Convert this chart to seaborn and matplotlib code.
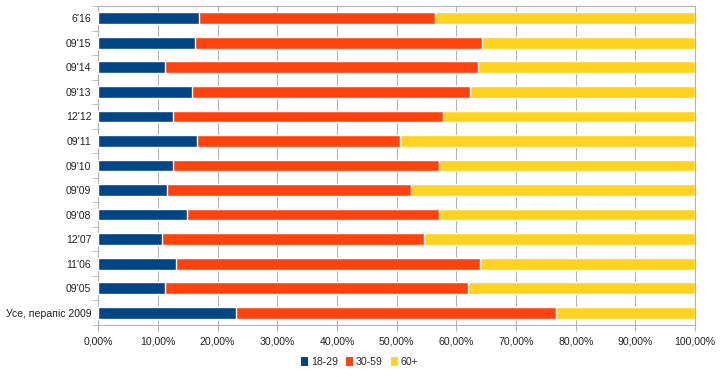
import numpy as np
import pandas as pd
import seaborn as sns
import matplotlib.pyplot as plt
from matplotlib.patches import Patch
from matplotlib.ticker import FuncFormatter, FixedLocator

# Дадзеныя (доля ўзроставых груп, %)
categories = ["6'16", "09'15", "09'14", "09'13", "12'12", "09'11", "09'10",
              "09'09", "09'08", "12'07", "11'06", "09'05", "Усе, перапіс 2009"]
age_18_29 = [16.8, 16.2, 11.2, 15.7, 12.5, 16.6, 12.6, 11.5, 14.9, 10.7, 13.1, 11.2, 23.1]
age_30_59 = [39.6, 48.1, 52.4, 46.5, 45.3, 34.0, 44.5, 40.9, 42.1, 43.9, 50.8, 50.8, 53.6]
series_names = ["18-29", "30-59", "60+"]
colors = ["#004586", "#ff420e", "#ffd320"]

df = pd.DataFrame({"cat": categories, "a": age_18_29, "b": age_30_59})
df["a_b"] = df["a"] + df["b"]
df["total"] = 100.0

sns.set_style("white")
plt.rcParams["font.family"] = ["Liberation Sans", "DejaVu Sans"]

fig = plt.figure(figsize=(7.2, 3.77), dpi=100)
ax = fig.add_axes([0.1365, 0.138, 0.829, 0.846])

# стос: жоўты (усё), чырвоны (18-59), сіні (18-29)
for col, c in zip(["total", "a_b", "a"], colors[::-1]):
    sns.barplot(data=df, x=col, y="cat", color=c, orient="h", width=0.48,
                saturation=1, ax=ax, zorder=3)

ax.set_xlim(0, 100)
ax.set_ylim(len(categories) - 0.5, -0.5)
ax.set_xlabel("")
ax.set_ylabel("")

ax.xaxis.set_major_locator(FixedLocator(np.arange(0, 101, 10)))
ax.xaxis.set_major_formatter(FuncFormatter(lambda v, p: f"{v:.2f}%".replace(".", ",")))
ax.grid(axis="x", color="#b3b3b3", linewidth=0.8, zorder=0)
ax.set_axisbelow(True)

ax.yaxis.set_minor_locator(FixedLocator(np.arange(-0.5, len(categories), 1)))
ax.tick_params(axis="y", which="major", length=0, pad=5, labelsize=7.6, colors="#222222")
ax.tick_params(axis="y", which="minor", length=4, color="#b3b3b3", direction="out", left=True)
ax.tick_params(axis="x", which="major", length=4, direction="out",
               bottom=True, labelsize=7.6, labelcolor="#222222", color="#b3b3b3", pad=4)

for s in ax.spines.values():
    s.set_color("#b3b3b3")
    s.set_linewidth(0.8)

handles = [Patch(facecolor=c, edgecolor="none") for c in colors]
fig.legend(handles, series_names, loc="center", bbox_to_anchor=(0.5, 0.04), ncol=3,
           frameon=False, fontsize=7.6, handlelength=0.6, handleheight=0.9,
           handletextpad=0.3, columnspacing=0.8)

fig.savefig("out.png", dpi=100)
